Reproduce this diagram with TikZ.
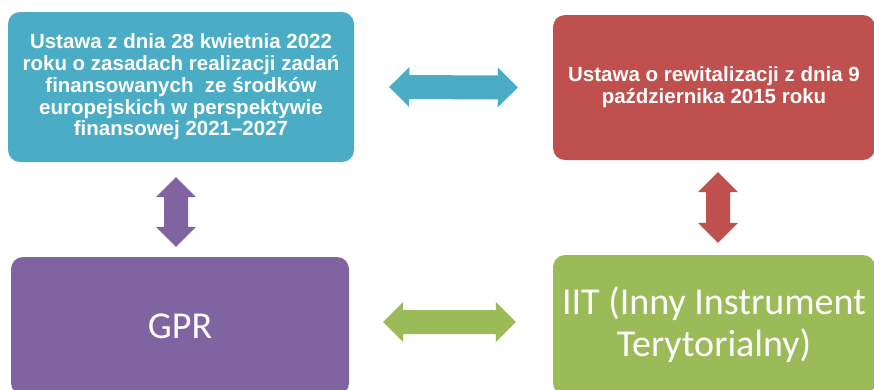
\documentclass[tikz,border=0pt]{standalone}
\usepackage{fontspec}
\newfontfamily\lawfont{Liberation Sans}[Ligatures=TeX]
\newfontfamily\calfont{Carlito}[Ligatures=TeX]
\usetikzlibrary{calc}

\definecolor{boxteal}{HTML}{4BACC6}
\definecolor{boxred}{HTML}{C0504D}
\definecolor{boxpurple}{HTML}{8064A2}
\definecolor{boxgreen}{HTML}{9BBB59}

\tikzset{
  box/.style={rounded corners=12pt, inner sep=0pt, align=center, text=white},
  lawtext/.style={font=\lawfont\bfseries\fontsize{20.5}{21.7}\selectfont},
  bigtext/.style={font=\calfont\fontsize{38}{42}\selectfont}
}

% double headed block arrow: colour, start, end
\newcommand{\dblarrow}[3]{%
  \path (#2) coordinate (s) (#3) coordinate (e);
  \coordinate (hs) at ($(s)!20pt!(e)$);
  \coordinate (he) at ($(e)!20pt!(s)$);
  \fill[#1] (s) -- ($(hs)!20pt!90:(e)$) -- ($(hs)!12pt!90:(e)$)
    -- ($(he)!12pt!-90:(s)$) -- ($(he)!20pt!-90:(s)$) -- (e)
    -- ($(he)!20pt!90:(s)$) -- ($(he)!12pt!90:(s)$)
    -- ($(hs)!12pt!-90:(e)$) -- ($(hs)!20pt!-90:(e)$) -- cycle;
}

\begin{document}
\begin{tikzpicture}[x=1pt,y=-1pt]
  \useasboundingbox (0,0) rectangle (874,389);
  \clip (0,0) rectangle (874,389);
  % Boxes
  \node [box, lawtext, fill=boxteal, minimum width=346pt, minimum height=150pt]
    (ustawa) at (181,87)
    {Ustawa z dnia 28 kwietnia 2022\\ roku o zasadach realizacji zadań\\
     finansowanych\ \ ze środków\\ europejskich w perspektywie\\
     finansowej 2021–2027};
  \node [box, lawtext, fill=boxred, minimum width=322pt, minimum height=145pt]
    (rewit) at (714,87.5)
    {Ustawa o rewitalizacji z dnia 9\\ października 2015 roku};
  \node [box, bigtext, fill=boxpurple, minimum width=338pt, minimum height=138pt]
    (gpr) at (180,326) {GPR};
  \node [box, bigtext, fill=boxgreen, minimum width=322pt, minimum height=140pt]
    (iit) at (714,325) {IIT (Inny Instrument\\ Terytorialny)};
  % Arrows
  \dblarrow{boxteal}{$(ustawa.east)+(35,0)$}{$(rewit.west)+(-35,0)$}
  \dblarrow{boxpurple}{$(ustawa.south)+(-5,15)$}{$(gpr.north)+(-4,-10)$}
  \dblarrow{boxred}{$(rewit.south)+(4,12)$}{$(iit.north)+(4,-12)$}
  \dblarrow{boxgreen}{$(gpr.east)+(34,-4)$}{$(iit.west)+(-37,-3)$}
\end{tikzpicture}
\end{document}
